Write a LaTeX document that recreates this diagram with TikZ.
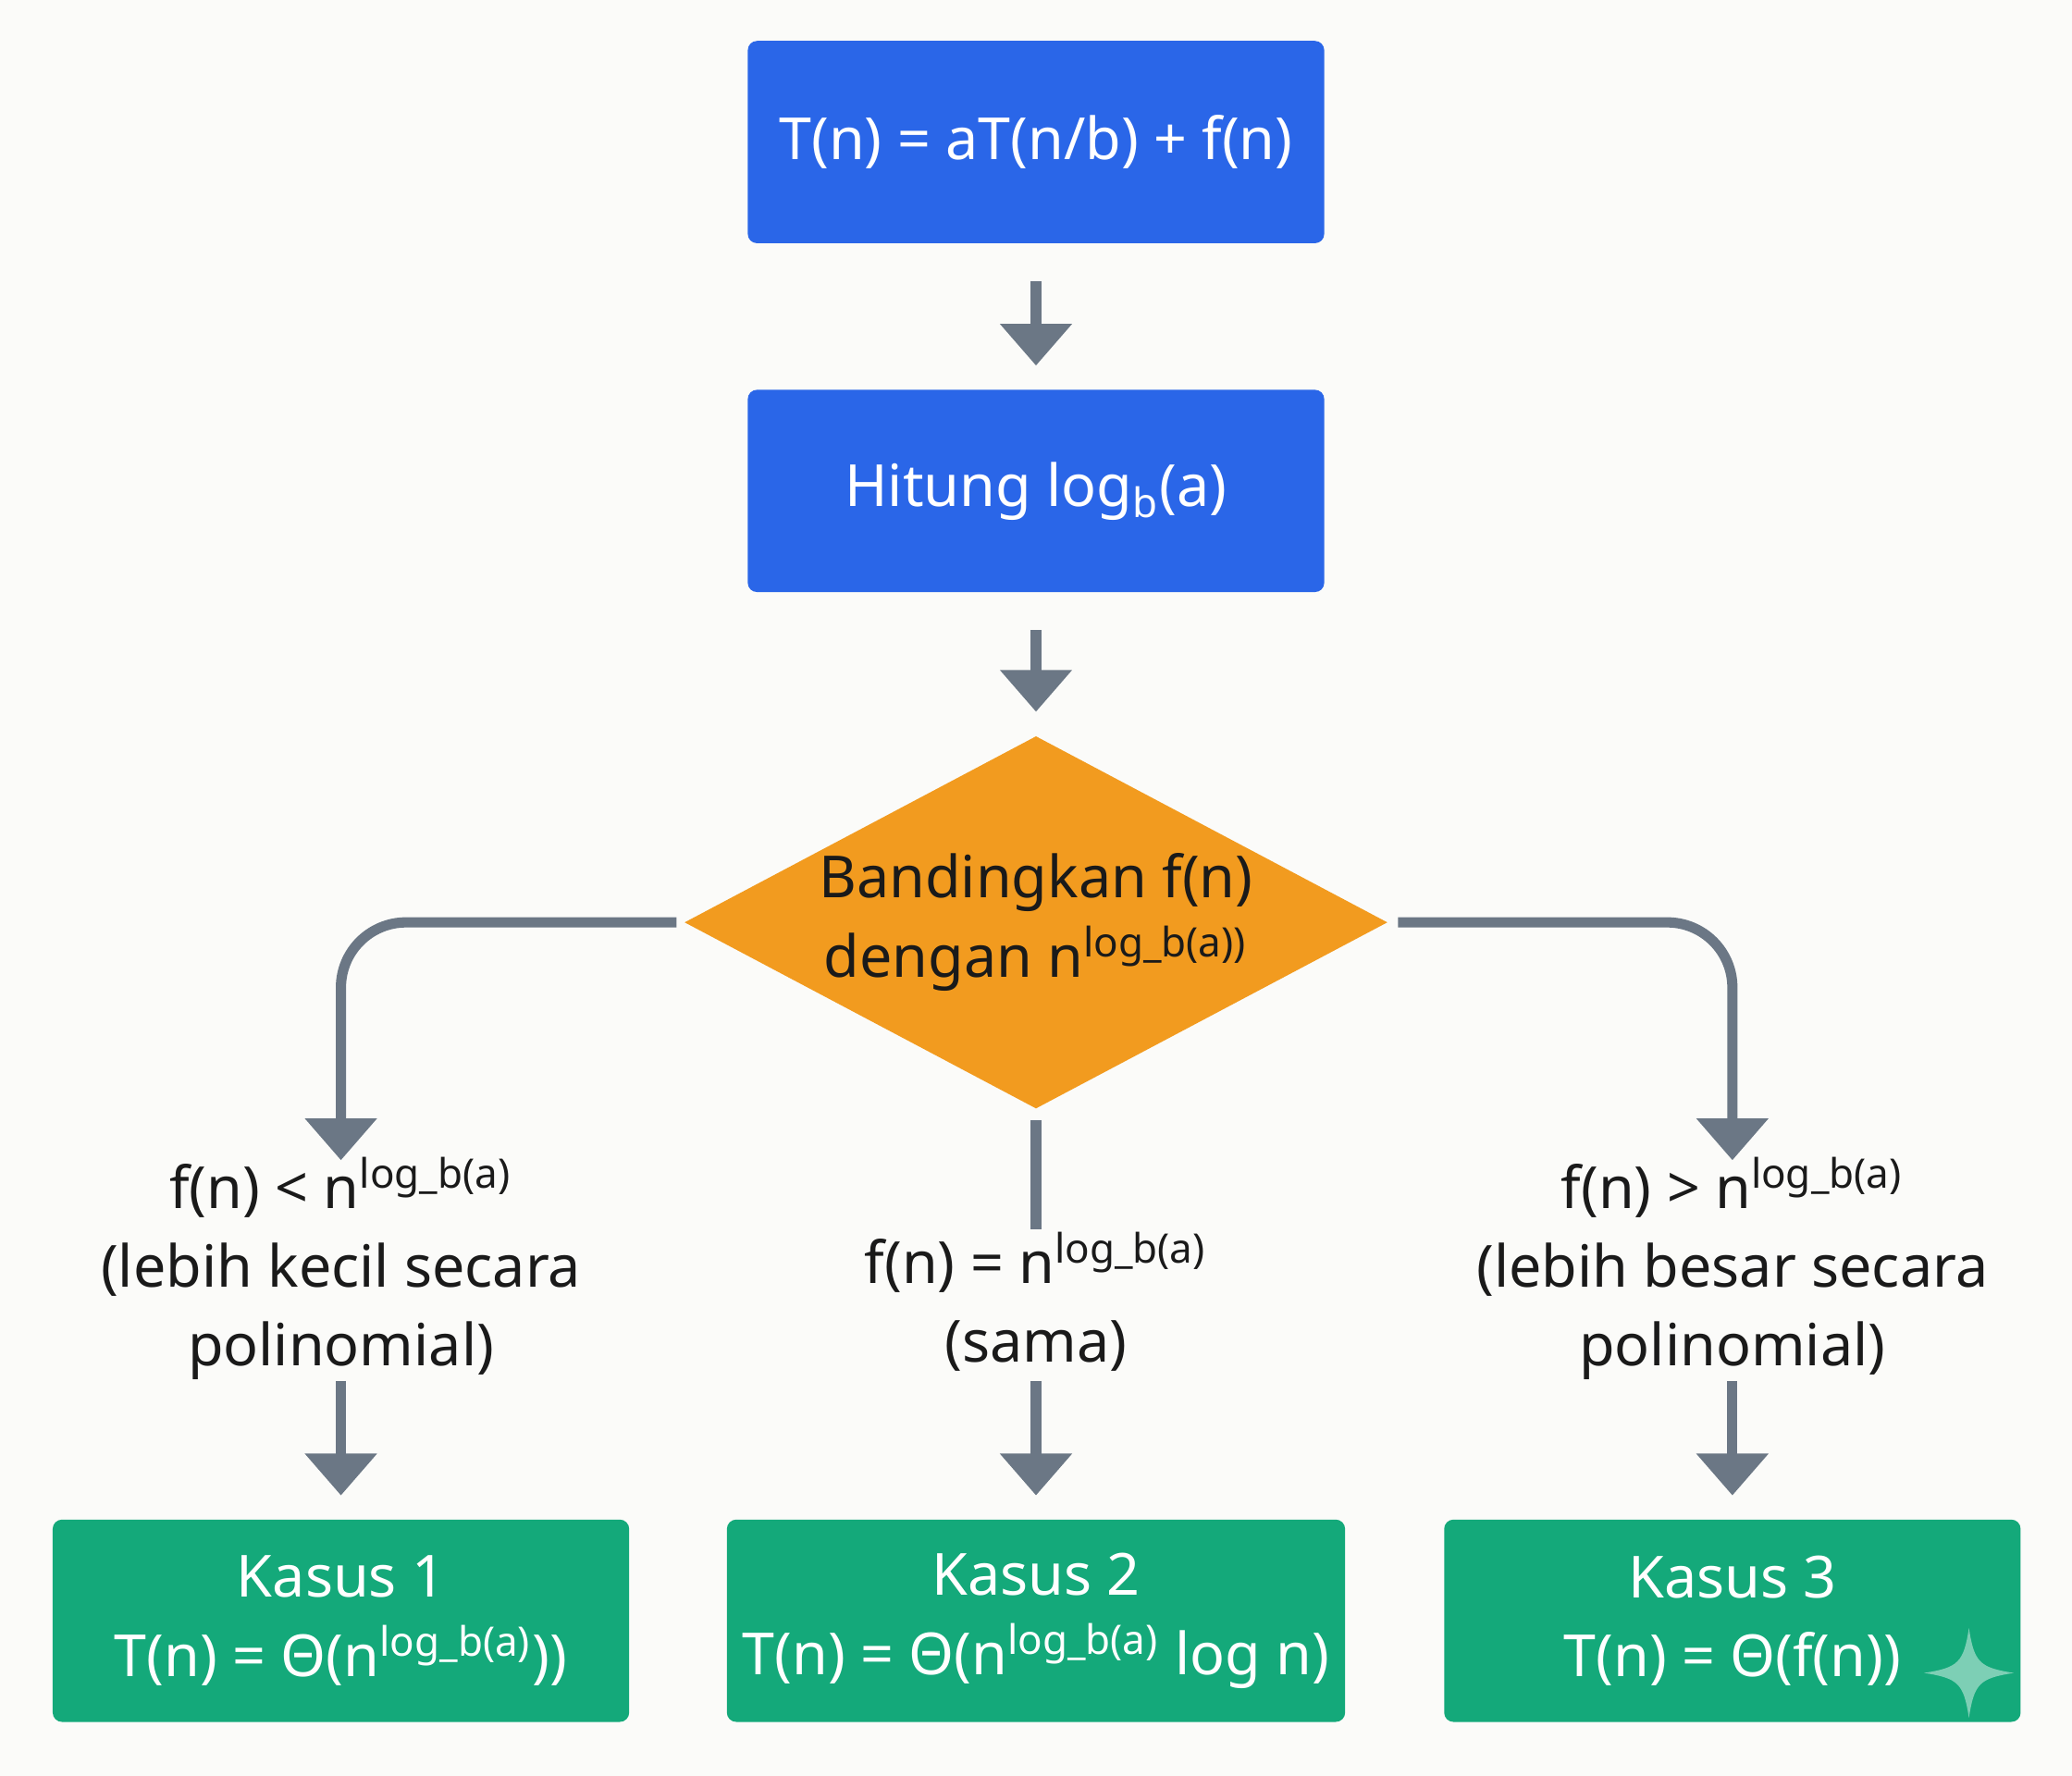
\documentclass[tikz,border=0pt]{standalone}
\usepackage{fontspec}
\setmainfont{Noto Sans}
\usetikzlibrary{shapes.geometric,arrows.meta}
\definecolor{bblue}{HTML}{2A66E8}
\definecolor{dorange}{HTML}{F29B1F}
\definecolor{bgreen}{HTML}{14A97A}
\definecolor{agray}{HTML}{6B7785}
\definecolor{bg}{HTML}{FBFBF9}
\definecolor{txt}{HTML}{1A1A1A}
\begin{document}
\begin{tikzpicture}[x=0.01cm,y=-0.01cm,
  box/.style={rectangle,rounded corners=2pt,minimum width=4.36cm,minimum height=1.53cm,text=white,align=center,font=\fontsize{12.5}{17}\selectfont},
  lbl/.style={align=center,text=txt,font=\fontsize{12.5}{17}\selectfont},
  arr/.style={draw=agray,line width=2.2pt,-{Triangle[length=9pt,width=15pt]}},
  ln/.style={draw=agray,line width=2.2pt}]
\fill[bg] (0,0) rectangle (1568,1344);
\useasboundingbox (0,0) rectangle (1568,1344);
\node[box,fill=bblue] (b1) at (784,107.5) {T(n) = aT(n/b) + f(n)};
\node[box,fill=bblue] (b2) at (784,371.5) {Hitung log\textsubscript{b}(a)};
\node[diamond,fill=dorange,minimum width=5.32cm,minimum height=2.82cm,inner sep=0pt] (d) at (784,698) {};
\node[lbl] (dt) at (784,698) {Bandingkan f(n)\\dengan n\textsuperscript{log\_b(a))}};
\node[lbl] (l) at (258,960) {f(n) < n\textsuperscript{log\_b(a)}\\(lebih kecil secara\\polinomial)};
\node[lbl] (m) at (784,985) {f(n) = n\textsuperscript{log\_b(a)}\\(sama)};
\node[lbl] (r) at (1311,960) {f(n) > n\textsuperscript{log\_b(a)}\\(lebih besar secara\\polinomial)};
\node[box,fill=bgreen] (k1) at (258,1226.5) {Kasus 1\\T(n) = Θ(n\textsuperscript{log\_b(a)}))};
\node[box,fill=bgreen] (k2) at (784,1226.5) {Kasus 2\\T(n) = Θ(n\textsuperscript{log\_b(a)} log n)};
\node[box,fill=bgreen] (k3) at (1311,1226.5) {Kasus 3\\T(n) = Θ(f(n))};
\coordinate (dl) at (512,698);
\coordinate (dr) at (1058,698);
\coordinate (la) at (258,878);
\coordinate (ra) at (1311,878);
\coordinate (mt) at (784,848);
\coordinate (mb) at (784,930);
\draw[arr] ([yshift=-8]b1.south) -- ([yshift=5]b2.north);
\draw[arr] ([yshift=-8]b2.south) -- ([yshift=5]d.north);
\draw[arr,rounded corners=14pt] (dl) -| (la);
\draw[arr,rounded corners=14pt] (dr) -| (ra);
\draw[ln] (mt) -- (mb);
\coordinate (l1) at (258,1045); \coordinate (m1) at (784,1045); \coordinate (r1) at (1311,1045);
\draw[arr] (l1) -- ([yshift=5]k1.north);
\draw[arr] (m1) -- ([yshift=5]k2.north);
\draw[arr] (r1) -- ([yshift=5]k3.north);
\fill[white,opacity=0.45] (1490,1232) .. controls (1494,1258) and (1498,1262) .. (1524,1266)
  .. controls (1498,1270) and (1494,1274) .. (1490,1300)
  .. controls (1486,1274) and (1482,1270) .. (1456,1266)
  .. controls (1482,1262) and (1486,1258) .. (1490,1232) -- cycle;
\end{tikzpicture}
\end{document}
